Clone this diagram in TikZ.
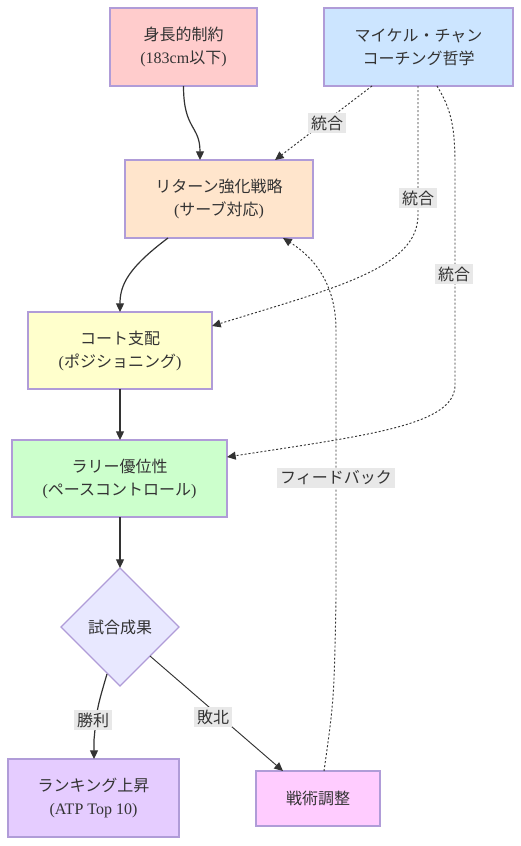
\documentclass[tikz,border=0pt]{standalone}
\usepackage{fontspec}
\setmainfont{Liberation Serif}
\newfontfamily\jp{Noto Sans CJK JP}
\usetikzlibrary{shapes.geometric,arrows.meta,calc}
\definecolor{txt}{HTML}{333333}
\definecolor{bord}{HTML}{B09CD8}
\definecolor{edgec}{HTML}{333333}
\definecolor{lblbg}{HTML}{E8E8E8}
\definecolor{cA}{HTML}{FFCCCC}
\definecolor{cB}{HTML}{CCE5FF}
\definecolor{cC}{HTML}{FFE5CC}
\definecolor{cD}{HTML}{FFFFCC}
\definecolor{cE}{HTML}{CCFFCC}
\definecolor{cF}{HTML}{E8E8FF}
\definecolor{cG}{HTML}{E5CCFF}
\definecolor{cH}{HTML}{FFCCFF}
\tikzset{
  box/.style={draw=bord, line width=1pt, rectangle, inner sep=0pt, outer sep=0pt,
    align=center, text=txt, font=\fontsize{12}{17.25}\selectfont},
  decision/.style={draw=bord, line width=1pt, diamond, aspect=1, inner sep=0pt, outer sep=0pt,
    minimum width=88.5pt, minimum height=88.5pt, align=center, text=txt, font=\fontsize{12}{17.25}\selectfont},
  solidedge/.style={draw=edgec, line width=0.9pt, -{Triangle[length=6.5pt,width=6pt]}},
  thinedge/.style={draw=edgec, line width=0.7pt, -{Triangle[length=6.5pt,width=6pt]}},
  dotedge/.style={draw=edgec, line width=0.7pt, dash pattern=on 1.5pt off 1.5pt, -{Triangle[length=6.5pt,width=6pt]}},
  lbl/.style={fill=lblbg, text=txt, inner sep=2pt, font=\fontsize{12}{14}\selectfont\jp},
}
\begin{document}
\begin{tikzpicture}[x=0.75pt,y=-0.75pt]
\useasboundingbox (0,0) rectangle (521,846);
\fill[white] (0,0) rectangle (521,846);
% nodes
\node[box, fill=cA, minimum width=110.25pt, minimum height=58.5pt] (A) at (183.5,47) {{\jp 身長的制約}\\({183cm}{\jp 以下})};
\node[box, fill=cB, minimum width=141.75pt, minimum height=58.5pt] (B) at (418.5,47) {{\jp マイケル・チャン}\\{\jp コーチング哲学}};
\node[box, fill=cC, minimum width=141pt, minimum height=58.5pt] (C) at (219,199) {{\jp リターン強化戦略}\\({\jp サーブ対応})};
\node[box, fill=cD, minimum width=138pt, minimum height=57.75pt] (D) at (120,350.5) {{\jp コート支配}\\({\jp ポジショニング})};
\node[box, fill=cE, minimum width=161.25pt, minimum height=57.75pt] (E) at (119.5,478.5) {{\jp ラリー優位性}\\({\jp ペースコントロール})};
\node[decision, fill=cF] (F) at (120,627) {\jp 試合成果};
\node[box, fill=cG, minimum width=128.25pt, minimum height=58.5pt] (G) at (93.5,798) {{\jp ランキング上昇}\\(ATP Top 10)};
\node[box, fill=cH, minimum width=93pt, minimum height=41.25pt] (H) at (318,798.5) {\jp 戦術調整};
% edges
\draw[solidedge] (A.south) .. controls (183.5,130) and (200,125) .. ($(C.north)+(-19,0)$);
\draw[dotedge] ($(B.south)+(-46.5,0)$) -- ($(C.north)+(56,0)$);
\draw[dotedge] ($(B.south)+(-0.5,0)$) -- (418,215) .. controls (418,268) and (335,288) .. ($(D.east)+(0,-24.5)$);
\draw[dotedge] ($(B.south)+(18.5,0)$) .. controls (452,110) and (455,130) .. (455,165) -- (455,385) .. controls (455,425) and (370,435) .. ($(E.east)+(0,-21.5)$);
\draw[solidedge] ($(C.south)+(-51,0)$) .. controls (128,268) and (120,285) .. (D.north);
\draw[solidedge] (D.south) -- (E.north -| D.south);
\draw[solidedge] (E.south -| F.north) -- (F.north);
\draw[solidedge] (107,674) .. controls (97,708) .. (94,740) -- (G.north -| 94,0);
\draw[thinedge] (150,656) -- ($(H.north)+(-35,0)$);
\draw[dotedge] ($(H.north)+(6,0)$) .. controls (334,700) .. (336,600) -- (336,330) .. controls (336,285) and (315,258) .. ($(C.south)+(64,0)$);
% labels
\node[lbl] (l1) at (327,123) {統合};
\node[lbl] (l2) at (418,198) {統合};
\node[lbl] (l3) at (454,274) {統合};
\node[lbl] (l4) at (336,478) {フィードバック};
\node[lbl] (l5) at (93,720) {勝利};
\node[lbl] (l6) at (213,717) {敗北};
\end{tikzpicture}
\end{document}
